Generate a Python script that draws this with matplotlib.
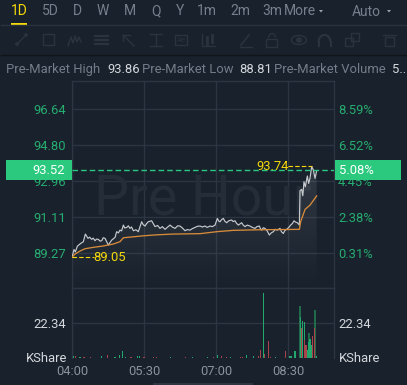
import numpy as np
import matplotlib
matplotlib.use("Agg")
import matplotlib.pyplot as plt
from matplotlib.patches import Rectangle, Circle, Polygon, Arc

# ---------- data ----------
price_t = [0,2.5,4.2,6.7,10.8,14.2,16.7,20,22,24.6,26.5,28.8,30.5,32.9,35,37.1,39,41.3,45.4,49.6,53.8,55.8,58,60,62,64.2,66,68.3,70.5,72.5,74.5,76.7,
           80,82.9,87.1,89,91.3,93.3,95.4,99.6,101.5,103.8,107,110,113,116.3,119,122.5,125.5,128.8,132,135,138,141.3,144,147.5,150.5,153.8,157,160,163,166.3,169,172.5,175.5,178.8,
           181.7,183.5,185,187,189.2,191,193.3,196,199.6,201.5,203.8,205.5,207.9,210,212.1,214,216.3,219,222.5,225.5,228.8,231,234.2,235.5,237.1,239,241.3,244,246.7,249,251.7,254,256.7,
           260,262,264.2,266,268.3,271,273.3,275.5,277.5,279.5,281.7,284.2,285,287.1,288.5,290,291.7,293,294.2,295.8,297.5,299.6,301.7,303.8,305.8]
price_v = [89.05,89.45,89.33,89.62,89.76,89.85,90.24,90.02,90.08,89.97,90.03,89.90,89.98,89.97,89.88,89.90,90.05,90.02,89.68,89.93,90.07,90.36,
           90.30,90.44,90.40,90.70,90.55,90.58,90.66,90.53,90.60,90.41,90.46,90.36,90.87,90.72,90.65,90.78,90.87,90.92,90.78,90.62,90.68,90.53,90.62,90.48,90.58,90.70,90.60,90.53,90.66,90.65,90.55,90.41,90.47,90.44,90.52,90.58,90.64,90.65,90.60,90.65,90.58,90.65,90.62,90.70,
           91.04,90.90,90.87,90.98,91.04,90.90,90.82,90.92,90.96,90.88,90.92,90.80,90.70,90.76,90.82,90.70,90.62,90.70,90.65,90.58,90.53,90.62,90.65,90.52,90.44,90.56,90.53,90.40,90.19,90.30,90.36,90.48,90.44,
           90.53,90.35,90.27,90.42,90.48,90.58,90.70,90.78,90.92,90.85,90.82,90.70,92.46,92.53,92.20,92.92,92.66,92.95,93.21,92.83,93.10,93.69,93.52,93.09,93.48]
avg_t = [0,3.8,10,16.3,26.7,39.2,51.7,60,64.2,76.7,89.2,105.8,126.7,160,180.8,201.7,235,284.2,285.8,291.3,297.5,305.8]
avg_v = [89.05,89.22,89.37,89.49,89.56,89.63,89.73,89.85,90.05,90.10,90.15,90.20,90.24,90.26,90.36,90.43,90.46,
         90.48,90.87,91.50,91.72,92.19]

vol_up_t = [1.7,10,37,53.8,59.2,63.3,66.7,82,84,122.9,150.4,169,181.7,198.3,218.3,226.7,239.2,254.2,272.5,274.6,278.8,
            285.4,287.9,290.4,292,293.5,294.6,296,297.5,298.8,300,305.4]
vol_up_v = [1.3,.5,1,.8,2.1,4.7,.8,1,1,.8,.4,.5,2,.8,2,1.5,41.5,.9,1.5,1.5,4.3,26.2,23.8,23,7,8,5.3,10,12,6.4,8,1.5]
vol_down_t = [4.2,15,23.3,44,73.8,90,101.7,106,142,176.7,187,193.3,210.8,213.3,232.9,236,241,245.4,248.3,266.7,
              287,290.9,292.5,300.8,302.9]
vol_down_v = [1.3,.5,.5,2.1,.4,.8,.4,.8,.8,.7,1.5,.6,.8,.8,1.5,5.3,2.5,11,.6,4.7,19,11.7,8.5,13.8,19]
vol_bg_t = [285,296.7,303.8]
vol_bg_v = [33,16,30.9]

price_ticks = [96.64,94.80,92.96,91.11,89.27]
price_labels = ["96.64","94.80","92.96","91.11","89.27"]
pct_labels = ["8.59%","6.52%","4.45%","2.38%","0.31%"]
time_ticks = [0,90,180,270]
time_labels = ["04:00","05:30","07:00","08:30"]
vol_tick = [22.34]
last_price = 93.52
high_mark = (299.6,93.74,"93.74")
low_mark = (0,89.05,"89.05")
tabs = ["1D","5D","D","W","M","Q","Y","1m","2m","3m","More"]
tab_x = [19,50,77,103,130,156,180,207,240,272,299.5]

# ---------- style ----------
BG="#19212c"; GRID="#2c3541"; GREEN="#2ac97e"; TICK="#26ad70"; GRAY="#8a929d"; WHITE="#d5d8dc"; YEL="#f5d90a"
FS=9.4
plt.rcParams['font.family']=['Roboto','DejaVu Sans']
W,H=407,385
fig=plt.figure(figsize=(W/100,H/100),dpi=100,facecolor=BG)
def axpx(l,t,r,b,**k):
    return fig.add_axes([l/W,1-b/H,(r-l)/W,(b-t)/H],**k)

L,R,T,MID,B=72,334,81,288,358
ax=axpx(L,T,R,MID,facecolor=BG)
ax.set_xlim(0,327.5); ax.set_ylim(87.48,98.07)
vax=axpx(L,MID,R,B,facecolor=BG)
vax.set_xlim(0,327.5); vax.set_ylim(0,44.66)

for a in (ax,vax):
    for s in a.spines.values():
        s.set_color(GRID); s.set_linewidth(1)
    a.grid(True,color=GRID,lw=1); a.set_axisbelow(True)
    a.set_xticks(time_ticks)
vax.spines['bottom'].set_visible(False)

ax.set_yticks(price_ticks); ax.set_yticklabels(price_labels)
ax.tick_params(axis='y',length=0,pad=4.5,labelcolor=TICK,labelsize=FS)
ax.tick_params(axis='x',length=0,labelbottom=False)
ax2=ax.twinx(); ax2.set_ylim(ax.get_ylim()); ax2.set_yticks(price_ticks); ax2.set_yticklabels(pct_labels)
ax2.tick_params(axis='y',length=0,pad=3,labelcolor=TICK,labelsize=FS)
for s in ax2.spines.values(): s.set_visible(False)

vax.set_xticklabels(time_labels)
vax.tick_params(axis='x',length=0,pad=5,labelcolor=GRAY,labelsize=FS)
vax.set_yticks(vol_tick); vax.set_yticklabels(["22.34"])
vax.tick_params(axis='y',length=0,pad=4.5,labelcolor=WHITE,labelsize=FS)
vax2=vax.twinx(); vax2.set_ylim(vax.get_ylim()); vax2.set_yticks(vol_tick); vax2.set_yticklabels(["22.34"])
vax2.tick_params(axis='y',length=0,pad=3,labelcolor=WHITE,labelsize=FS)
for s in vax2.spines.values(): s.set_visible(False)

# watermark
ax.text(0.5,(98.07-93.52)/(98.07-87.48),"Pre Hour",transform=ax.transAxes,ha='center',va='center',
        fontsize=40,color="#252d38",zorder=1)

# gradient area under price
grad=np.linspace(0,1,64).reshape(-1,1)
rgba=np.zeros((64,1,4)); rgba[...,:3]=matplotlib.colors.to_rgb("#aab0b8"); rgba[...,3]=0.17*(1-grad)
im=ax.imshow(rgba,extent=[0,327.5,87.48,93.86],aspect='auto',zorder=1.5,origin='upper')
ax.set_xlim(0,327.5); ax.set_ylim(87.48,98.07)
poly=ax.fill_between(price_t,price_v,87.48,color='none',lw=0)
im.set_clip_path(poly.get_paths()[0],transform=ax.transData)

ax.plot(price_t,price_v,color="#c6c9cd",lw=0.85,zorder=3,solid_joinstyle='round')
ax.plot(avg_t,avg_v,color="#d68a3a",lw=0.95,zorder=3)
ax.axhline(last_price,color=GREEN,lw=1,ls=(0,(4,2.2)),zorder=4)

# high / low marks
ax.plot([high_mark[0]-29,high_mark[0]],[high_mark[1]]*2,color=YEL,lw=.8,ls=(0,(4,2)),zorder=4)
ax.text(high_mark[0]-29,high_mark[1]-.02,high_mark[2],color=YEL,fontsize=FS,ha='right',va='center',zorder=5)
ax.plot([low_mark[0],low_mark[0]+27],[low_mark[1]]*2,color=YEL,lw=.8,ls=(0,(4,2)),zorder=4)
ax.text(low_mark[0]+27,low_mark[1]-.01,low_mark[2],color=YEL,fontsize=FS,ha='left',va='center',zorder=5)

# volume
vax.bar(vol_bg_t,vol_bg_v,width=2.4,color="#1f6b4c",zorder=2)
vax.bar(vol_up_t,vol_up_v,width=1.5,color="#22a86c",zorder=3)
vax.bar(vol_down_t,vol_down_v,width=1.5,color="#a8454a",zorder=4)

# ---------- chrome overlay ----------
ov=fig.add_axes([0,0,1,1],facecolor='none'); ov.set_xlim(0,W); ov.set_ylim(H,0); ov.axis('off'); ov.set_zorder(10)
IC="#2b333e"
for x,t in zip(tab_x,tabs):
    ov.text(x,11,t,color=YEL if t=="1D" else "#76808c",fontsize=10,ha='center',va='center')
ov.add_patch(Rectangle((11,23),16,1.6,color=YEL,lw=0))
ov.text(366,12,"Auto",color="#76808c",fontsize=10,ha='center',va='center')
for x in (321,389):
    ov.add_patch(Polygon([[x-2,10],[x+2,10],[x,12.5]],color="#9aa2ac",lw=0))
ov.plot([1,406],[25,25],color="#2a323d",lw=1)
ov.plot([1,406],[55,55],color="#10151c",lw=1)

# tool icons
def ln(xs,ys,lw=1): ov.plot(xs,ys,color=IC,lw=lw)
ln([17,26],[44,35]); ov.add_patch(Circle((17,44),1.2,color=IC)); ov.add_patch(Circle((26,35),1.2,color=IC))
ov.add_patch(Rectangle((43,34),11,11,fill=False,ec=IC,lw=1))
ln([68,71,73,75,77,79,81],[46,37,43,36,42,37,42])
for y in (36,40,44): ln([95,108],[y,y],1.6)
ln([123,134],[35,46]); ln([123,123,130],[41,35,35])
ln([150,162],[34,34]); ln([150,162],[46,46]); ln([156,156],[34,46])
ov.add_patch(Rectangle((175,35),12,10,fill=False,ec=IC,lw=1))
ov.text(181,40,"Ae",color=IC,fontsize=5.5,ha='center',va='center')
ln([202,202,215],[34,46,46]); ln([207,207],[37,44],2); ln([212,212],[35,42],2)
ln([241,249],[45,35],1.2); ln([240,252],[47,47])
ov.add_patch(Rectangle((266,39),11,8,fill=False,ec=IC,lw=1))
ov.add_patch(Arc((272,38),7,9,theta1=180,theta2=350,color=IC,lw=1))
ov.add_patch(Arc((299,40),15,9,color=IC,lw=1)); ov.add_patch(Circle((299,40),2.2,color=IC))
ov.add_patch(Arc((324.5,42),12,14,theta1=180,theta2=360,color=IC,lw=1.6)); ln([318.5,318.5],[42,46],1.6); ln([330.5,330.5],[42,46],1.6)
ov.add_patch(Rectangle((345,38),8,8,fill=False,ec=IC,lw=1)); ov.add_patch(Rectangle((351,33),8,8,fill=False,ec=IC,lw=1))
ov.add_patch(Rectangle((385,37),9,9,fill=False,ec=IC,lw=1)); ln([383,396],[35,35])

# info line
pieces=[(6.5,"Pre-Market High","#747d89"),(107.5,"93.86",WHITE),(142.5,"Pre-Market Low","#747d89"),(239,"88.81",WHITE),
        (274.5,"Pre-Market Volume","#747d89"),(392,"5..",WHITE)]
for x,t,c in pieces:
    ov.text(x,69.5,t,color=c,fontsize=9.4,ha='left',va='center')

# last price boxes
ov.add_patch(Rectangle((6,160),66,20,color=GREEN,lw=0))
ov.add_patch(Rectangle((335,160),66,20,color=GREEN,lw=0))
ov.text(65,170.5,"93.52",color="white",fontsize=FS,ha='right',va='center')
ov.text(339,170.5,"5.08%",color="white",fontsize=FS,ha='left',va='center')
ov.text(26,358,"KShare",color=WHITE,fontsize=FS,ha='left',va='center')
ov.text(339,358,"KShare",color=WHITE,fontsize=FS,ha='left',va='center')
# scroll bar
ov.add_patch(Rectangle((153,383),100,2,color="#2c3541",lw=0))

fig.savefig("out.png",dpi=100,facecolor=BG)
